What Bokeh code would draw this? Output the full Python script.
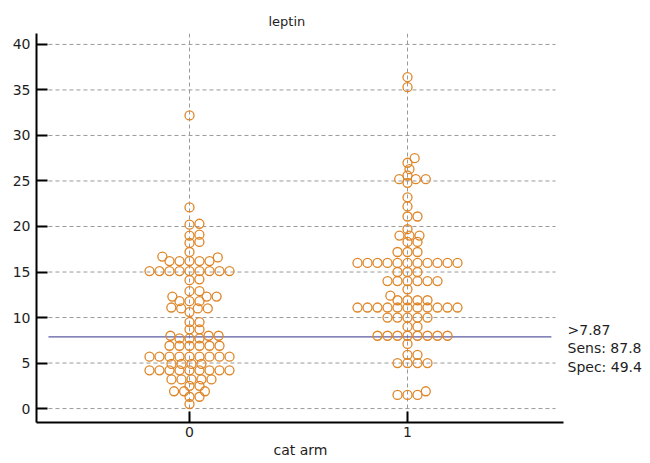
import math
from bokeh.plotting import figure
from bokeh.models import FixedTicker, Label, Range1d, ColumnDataSource, Title
from bokeh.embed import file_html
from bokeh.resources import INLINE

# ---------------- data ----------------
title_text = "leptin"
x_label = "cat arm"
categories = [0, 1]

leptin_arm0 = (
    [32.2, 22.1, 20.2, 20.3, 19.1, 19.0, 18.2, 18.3, 17.2, 16.6, 16.7]
    + [16.2] * 5 + [15.1] * 9 + [14.2, 14.1]
    + [12.9, 12.9, 12.3, 12.3, 12.3, 11.8, 11.8, 11.8, 11.0, 11.0, 11.0, 11.1, 10.6]
    + [9.5, 9.5, 8.7, 8.7] + [8.0, 8.0, 8.0, 7.7, 7.7, 7.7]
    + [6.9] * 6 + [5.7] * 9 + [4.9] * 4 + [4.2] * 9 + [3.2] * 5
    + [2.5, 2.5, 1.9, 1.9, 1.9, 1.3, 1.3, 0.5]
)
leptin_arm1 = (
    [36.4, 35.3, 27.5, 27.0, 26.3, 25.6, 24.8, 25.2, 25.2, 25.2, 23.2, 22.2,
     21.1, 21.1, 19.7, 19.0, 19.0, 19.0, 18.3, 18.3, 17.2, 17.2, 17.2]
    + [16.0] * 11 + [15.0] * 3 + [14.0] * 6 + [13.1, 12.4] + [11.9] * 4
    + [11.1] * 11 + [10.0] * 5 + [9.0, 9.0] + [8.0] * 8
    + [7.1, 5.9, 5.9, 5.0, 5.0, 5.0, 5.0, 1.9, 1.5, 1.5, 1.5]
)
cutoff = 7.87
stats_text = [">7.87", "Sens: 87.8", "Spec: 49.4"]
y_ticks = [0, 5, 10, 15, 20, 25, 30, 35, 40]

# ---------------- layout constants ----------------
W, H = 648, 461
BL, BR, BT, BB = 36, 2, 33, 39
PX_PER_UNIT = 218.0
X0 = -(189 - BL) / PX_PER_UNIT
X1 = X0 + (W - BL - BR) / PX_PER_UNIT
XAX1 = 1.716
Y0, Y1 = -1.53, 41.2
FRAME_H = H - BT - BB
XPX = PX_PER_UNIT
YPX = FRAME_H / (Y1 - Y0)
DX = 10.0   # horizontal spacing of markers in px
DY = 6.5    # vertical distance at which markers may share a column

ORANGE = "#de8628"
GRID = "#9a9a9a"
TEXT = "#1e1e1e"


def swarm(values):
    """Deterministic beeswarm: returns sorted values and x offsets (data units)."""
    vals = sorted(values)
    placed = []
    xs = []
    for v in vals:
        y = v * YPX
        cands = [0.0]
        for (px, py) in placed:
            dy = y - py
            if abs(dy) < DY:
                dx = DX * math.sqrt(1 - (dy / DY) ** 2)
                cands += [px + dx, px - dx]
        cands = sorted(cands, key=lambda c: (round(abs(c), 3), -c))
        for c in cands:
            ok = True
            for (px, py) in placed:
                if ((c - px) / DX) ** 2 + ((y - py) / DY) ** 2 < 1 - 1e-4:
                    ok = False
                    break
            if ok:
                placed.append((c, y))
                xs.append(c / XPX)
                break
    return vals, xs


p = figure(width=W, height=H, x_range=Range1d(X0, X1), y_range=Range1d(Y0, Y1),
           output_backend="svg", toolbar_location=None,
           min_border_left=BL, min_border_right=BR, min_border_top=BT, min_border_bottom=BB)
p.outline_line_color = None
p.background_fill_color = "white"
p.border_fill_color = "white"

p.add_layout(Title(text=title_text, align="left", offset=232, text_font="DejaVu Sans",
                   text_font_size="13px", text_font_style="normal", text_color=TEXT), "above")
p.add_layout(Title(text=x_label, align="left", offset=237, text_font="DejaVu Sans",
                   text_font_size="14px", text_font_style="normal", text_color=TEXT,
                   standoff=0), "below")

# axes
p.xaxis.ticker = FixedTicker(ticks=categories)
p.xaxis.bounds = (X0, XAX1)
p.yaxis.ticker = FixedTicker(ticks=y_ticks)
for ax in (p.xaxis[0], p.yaxis[0]):
    ax.axis_line_width = 2
    ax.axis_line_color = "black"
    ax.major_tick_in = 11
    ax.major_tick_out = 0
    ax.major_tick_line_width = 2
    ax.major_tick_line_color = "black"
    ax.minor_tick_line_color = None
    ax.major_label_text_font = "DejaVu Sans"
    ax.major_label_text_font_size = "14px"
    ax.major_label_text_color = TEXT
p.yaxis.major_label_standoff = 6
p.xaxis.major_label_standoff = 4

# grids
p.xgrid.ticker = FixedTicker(ticks=categories)
p.xgrid.grid_line_color = GRID
p.xgrid.grid_line_dash = "4 3"
p.xgrid.grid_line_width = 1
p.ygrid.visible = False
p.segment(x0=[-0.647] * len(y_ticks), x1=[1.679] * len(y_ticks), y0=y_ticks, y1=y_ticks,
          line_color=GRID, line_dash="4 3", line_width=1)

# cutoff line
p.segment(x0=[-0.647], x1=[1.66], y0=[cutoff], y1=[cutoff], line_color="#5b5ba3", line_width=1.3)

# points
for cat, vals in zip(categories, [leptin_arm0, leptin_arm1]):
    sv, offs = swarm(vals)
    src = ColumnDataSource(dict(x=[cat + o for o in offs], y=sv))
    p.scatter("x", "y", source=src, marker="circle", size=9, fill_color=None,
              line_color=ORANGE, line_width=1.3)

# stats text
for i, t in enumerate(stats_text):
    p.add_layout(Label(x=1.734, y=8.63 - 2.03 * i, text=t, text_font="DejaVu Sans",
                       text_font_size="14px", text_color=TEXT,
                       text_baseline="middle", text_align="left"))

open("out.html", "w").write(file_html(p, INLINE))
